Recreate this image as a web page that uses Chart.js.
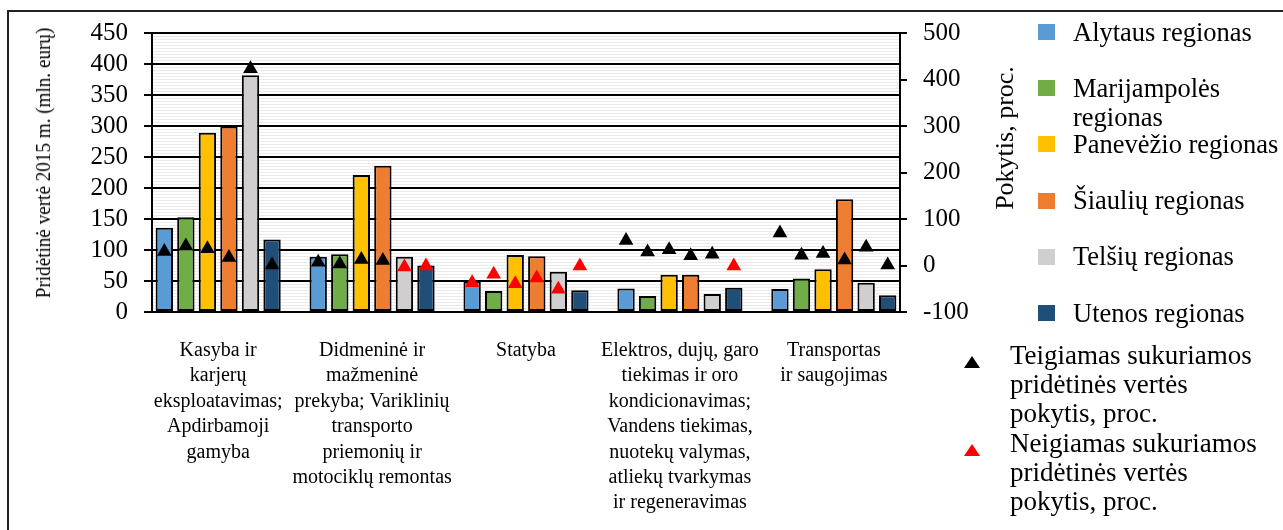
<!DOCTYPE html>
<html>
<head>
<meta charset="utf-8">
<script src="https://cdn.jsdelivr.net/npm/chart.js@4/dist/chart.umd.min.js"></script>
<style>
html,body{margin:0;padding:0;background:#fff;overflow:hidden;}
#wrap{position:relative;width:1283px;height:530px;font-family:'Liberation Serif','Times New Roman',serif;color:#000;overflow:hidden;}
#frame{position:absolute;left:7px;top:10px;width:1400px;height:700px;border:2px solid #222;box-sizing:border-box;}
#c{position:absolute;left:0;top:0;}
.vtitle{position:absolute;white-space:nowrap;}
#rtitle{left:1005px;top:138px;font-size:26px;line-height:30px;transform:translate(-50%,-50%) rotate(-90deg);}
#ltitle{left:43px;top:163px;font-size:22px;line-height:26px;transform:translate(-50%,-50%) rotate(-90deg) scaleX(0.87);}
.legtext{position:absolute;line-height:29px;}
.sw{position:absolute;width:17px;height:16px;}
.tri{position:absolute;width:0;height:0;border-left:8px solid transparent;border-right:8px solid transparent;border-bottom:12px solid #000;}
</style>
</head>
<body>
<div id="wrap">
  <div id="frame"></div>
  <canvas id="c" width="1283" height="530"></canvas>
  <div class="vtitle" id="ltitle"></div>
  <div class="vtitle" id="rtitle"></div>
  <div id="legend"></div>
</div>
<script>
// ---- Data ----
const categories = [
  ["Kasyba ir", "karjerų", "eksploatavimas;", "Apdirbamoji", "gamyba"],
  ["Didmeninė ir", "mažmeninė", "prekyba; Variklinių", "transporto", "priemonių ir", "motociklų remontas"],
  ["Statyba"],
  ["Elektros, dujų, garo", "tiekimas ir oro", "kondicionavimas;", "Vandens tiekimas,", "nuotekų valymas,", "atliekų tvarkymas", "ir regeneravimas"],
  ["Transportas", "ir saugojimas"]
];
const regionNames = ["Alytaus regionas", "Marijampolės regionas", "Panevėžio regionas", "Šiaulių regionas", "Telšių regionas", "Utenos regionas"];
const regionColors = ["#5B9BD5", "#70AD47", "#FFC000", "#ED7D31", "#D0CECE", "#1F4E79"];

// Value added 2015 (mln. eur), per category
const alytaus      = [136, 89, 49, 38, 37];
const marijampoles = [153, 93, 34, 26, 54];
const panevezio    = [289, 221, 92, 60, 69];
const siauliu      = [299, 236, 90, 60, 182];
const telsiu       = [382, 89, 65, 29, 47];
const utenos       = [117, 75, 35, 39, 27];

// Change, percent, per category
const alytausChange      = [30, 7, -37, 54, 70];
const marijampolesChange = [42, 3, -19, 29, 22];
const panevezioChange    = [36, 13, -39, 34, 26];
const siauliuChange      = [17, 11, -27, 21, 12];
const telsiuChange       = [423, -3, -51, 24, 39];
const utenosChange       = [1, -1, -1, -1, 1];

const leftTicks = {min: 0, max: 450, step: 50};
const rightTicks = {min: -100, max: 500, step: 100};
const positiveLabel = "Teigiamas sukuriamos pridėtinės vertės pokytis, proc.";
const negativeLabel = "Neigiamas sukuriamos pridėtinės vertės pokytis, proc.";
const positiveColor = "#000000";
const negativeColor = "#FF0000";
const leftTitle = "Pridėtinė vertė 2015 m. (mln. eurų)";
const rightTitle = "Pokytis, proc.";

// ---- Build ----
const values = [alytaus, marijampoles, panevezio, siauliu, telsiu, utenos];
const changes = [alytausChange, marijampolesChange, panevezioChange, siauliuChange, telsiuChange, utenosChange];
const CAT_PCT = 0.84, BAR_PCT = 0.805;
const X_MIN = -0.43, X_MAX = categories.length - 1 + 0.43;
const n = values.length;
const slot = CAT_PCT / n;

const barSets = values.map((arr, k) => ({
  type: 'bar',
  label: regionNames[k],
  data: arr.map((v, g) => ({x: g, y: v})),
  backgroundColor: regionColors[k],
  borderColor: '#000',
  borderWidth: 2,
  borderSkipped: false,
  categoryPercentage: CAT_PCT,
  barPercentage: BAR_PCT,
  xAxisID: 'x', yAxisID: 'y',
  order: 2
}));

function pointData(positive) {
  const pts = [];
  changes.forEach((arr, k) => arr.forEach((v, g) => {
    if ((v >= 0) === positive) pts.push({x: g + (k - (n - 1) / 2) * slot, y: v});
  }));
  return pts;
}
const pointSet = (label, positive, color) => ({
  type: 'line', label, data: pointData(positive), showLine: false,
  pointStyle: 'triangle', pointRadius: 8.5, pointHoverRadius: 8.5,
  pointBackgroundColor: color, pointBorderColor: color, pointBorderWidth: 0,
  xAxisID: 'x', yAxisID: 'y2', order: 1
});

Chart.defaults.font.family = "'Liberation Serif', 'Times New Roman', serif";
Chart.defaults.color = '#000';

new Chart(document.getElementById('c'), {
  data: {datasets: [pointSet(positiveLabel, true, positiveColor), pointSet(negativeLabel, false, negativeColor), ...barSets]},
  options: {
    responsive: false, animation: false, devicePixelRatio: 1,
    layout: {padding: {left: 20, top: 33, right: 283, bottom: 0}},
    plugins: {legend: {display: false}, tooltip: {enabled: false}},
    scales: {
      x: {
        type: 'linear', position: 'bottom', min: X_MIN, max: X_MAX, bounds: 'data', offset: false,
        grid: {display: false, drawTicks: false, offset: false},
        border: {display: true, color: '#000', width: 2},
        ticks: {
          autoSkip: false, maxRotation: 0, minRotation: 0,
          padding: 26, color: '#000', font: {size: 20, lineHeight: 1.27},
          callback: (v) => { const i = Math.round(v); return categories[i] || ''; }
        },
        afterDataLimits: (s) => { s.min = X_MIN; s.max = X_MAX; },
        afterBuildTicks: (s) => { s.ticks = categories.map((_, i) => ({value: i})); s.min = X_MIN; s.max = X_MAX; },
        afterFit: (s) => { s.height = 218; }
      },
      stripes: {
        type: 'linear', position: 'left', min: leftTicks.min, max: leftTicks.max,
        ticks: {display: false, stepSize: 5, autoSkip: false},
        grid: {color: '#ebebeb', lineWidth: 1, drawTicks: false, z: -2},
        border: {display: false},
        afterFit: (s) => { s.width = 0; }
      },
      y: {
        type: 'linear', position: 'left', min: leftTicks.min, max: leftTicks.max,
        ticks: {stepSize: leftTicks.step, autoSkip: false, color: '#000', font: {size: 25}, padding: 16},
        grid: {color: '#000', lineWidth: 2, tickLength: 8},
        border: {display: true, color: '#000', width: 2},
        afterFit: (s) => { s.width = 132; }
      },
      y2: {
        type: 'linear', position: 'right', min: rightTicks.min, max: rightTicks.max,
        ticks: {stepSize: rightTicks.step, autoSkip: false, color: '#000', font: {size: 25}, padding: 16},
        grid: {drawOnChartArea: false, color: '#000', lineWidth: 2, tickLength: 7},
        border: {display: true, color: '#000', width: 2},
        afterFit: (s) => { s.width = 100; }
      }
    }
  }
});

// ---- HTML legend & axis titles ----
document.getElementById('ltitle').textContent = leftTitle;
document.getElementById('rtitle').textContent = rightTitle;
const leg = document.getElementById('legend');
regionNames.forEach((name, i) => {
  const lineCenter = 32 + i * 56.2;
  const sw = document.createElement('div');
  sw.className = 'sw';
  sw.style.left = '1038px';
  sw.style.top = (lineCenter - 8) + 'px';
  sw.style.background = regionColors[i];
  leg.appendChild(sw);
  const t = document.createElement('div');
  t.className = 'legtext';
  t.style.fontSize = '26.5px';
  t.style.left = '1073px';
  t.style.top = (lineCenter - 14.5) + 'px';
  t.style.width = '210px';
  t.textContent = name;
  leg.appendChild(t);
});
[[positiveLabel, positiveColor], [negativeLabel, negativeColor]].forEach(([name, color], i) => {
  const lineCenter = 355 + i * 88;
  const tr = document.createElement('div');
  tr.className = 'tri';
  tr.style.left = '964px';
  tr.style.top = (lineCenter + 1) + 'px';
  tr.style.borderBottomColor = color;
  leg.appendChild(tr);
  const t = document.createElement('div');
  t.className = 'legtext';
  t.style.fontSize = '27px';
  t.style.left = '1010px';
  t.style.top = (lineCenter - 14.5) + 'px';
  t.style.width = '256px';
  t.textContent = name;
  leg.appendChild(t);
});
</script>
</body>
</html>
